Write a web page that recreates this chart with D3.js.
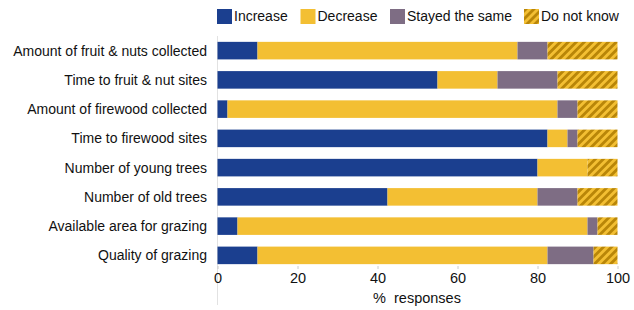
<!DOCTYPE html>
<html><head><meta charset="utf-8">
<script src="https://cdn.jsdelivr.net/npm/d3@7"></script>
<style>body{margin:0;background:#fff}svg{display:block;font-family:"Liberation Sans",Arial,sans-serif}</style>
</head><body><svg id="c" width="634" height="310"></svg>
<script>
const categories = ["Amount of fruit & nuts collected","Time to fruit & nut sites","Amount of firewood collected","Time to firewood sites","Number of young trees","Number of old trees","Available area for grazing","Quality of grazing"];
const seriesNames = ["Increase","Decrease","Stayed the same","Do not know"];
const increase = [10, 55, 2.5, 82.5, 80, 42.5, 5, 10];
const decrease = [65, 15, 82.5, 5, 12.5, 37.5, 87.5, 72.5];
const stayed   = [7.5, 15, 5, 2.5, 0, 10, 2.5, 11.5];
const dontKnow = [17.5, 15, 10, 10, 7.5, 10, 5, 6];
const xTicks = [0, 20, 40, 60, 80, 100];

const colors = ["#1b3f8f", "#f3bf33", "#7e6d84", "url(#hatch)"];
const svg = d3.select("#c");
const defs = svg.append("defs");
const pw = 5.66;
const pat = defs.append("pattern").attr("id","hatch").attr("patternUnits","userSpaceOnUse")
  .attr("width",pw).attr("height",pw).attr("patternTransform","rotate(45)");
pat.append("rect").attr("width",pw).attr("height",pw).attr("fill","#f3bf33");
pat.append("rect").attr("width",pw/2).attr("height",pw).attr("fill","#b98608");

const x = d3.scaleLinear().domain([0,100]).range([217.5, 617.5]);
const y = d3.scaleBand().domain(categories).range([36, 270]).paddingInner(0.4).paddingOuter(0.2);

const rows = categories.map((c,i)=>({cat:c, Increase:increase[i], Decrease:decrease[i], "Stayed the same":stayed[i], "Do not know":dontKnow[i]}));
const stack = d3.stack().keys(seriesNames)(rows);

svg.append("line").attr("x1",x(0)).attr("x2",x(0)).attr("y1",36).attr("y2",305)
  .attr("stroke","#e2e2e2").attr("stroke-width",1);

stack.forEach((layer,k)=>{
  svg.append("g").selectAll("rect").data(layer).join("rect")
    .attr("x",d=>x(d[0])).attr("width",d=>x(d[1])-x(d[0]))
    .attr("y",d=>y(d.data.cat)).attr("height",y.bandwidth())
    .attr("fill",colors[k]);
});

svg.append("g").selectAll("text").data(categories).join("text")
  .attr("x",207).attr("y",d=>y(d)+y.bandwidth()/2).attr("dy","0.35em")
  .attr("text-anchor","end").attr("font-size",14).attr("fill","#111").text(d=>d);

const xa = svg.append("g").attr("transform",`translate(0,${y.range()[1]-4})`)
  .call(d3.axisBottom(x).tickValues(xTicks).tickSize(3).tickPadding(4));
xa.select(".domain").remove();
xa.selectAll(".tick line").attr("stroke","#ccc");
xa.selectAll(".tick text").attr("font-size",14.5).attr("fill","#111").attr("font-family","Liberation Sans, Arial, sans-serif");

svg.append("text").attr("x",417).attr("y",298).attr("dy","0.35em").attr("text-anchor","middle")
  .attr("font-size",14.5).attr("fill","#111").attr("xml:space","preserve").text("%  responses");

const legX = [217, 300.5, 390, 524];
const lg = svg.append("g").selectAll("g").data(seriesNames).join("g")
  .attr("transform",(d,i)=>`translate(${legX[i]},9)`);
lg.append("rect").attr("width",15).attr("height",15).attr("fill",(d,i)=>colors[i]);
lg.append("text").attr("x",17).attr("y",7.5).attr("dy","0.35em").attr("font-size",14).attr("fill","#111").text(d=>d);
</script></body></html>
